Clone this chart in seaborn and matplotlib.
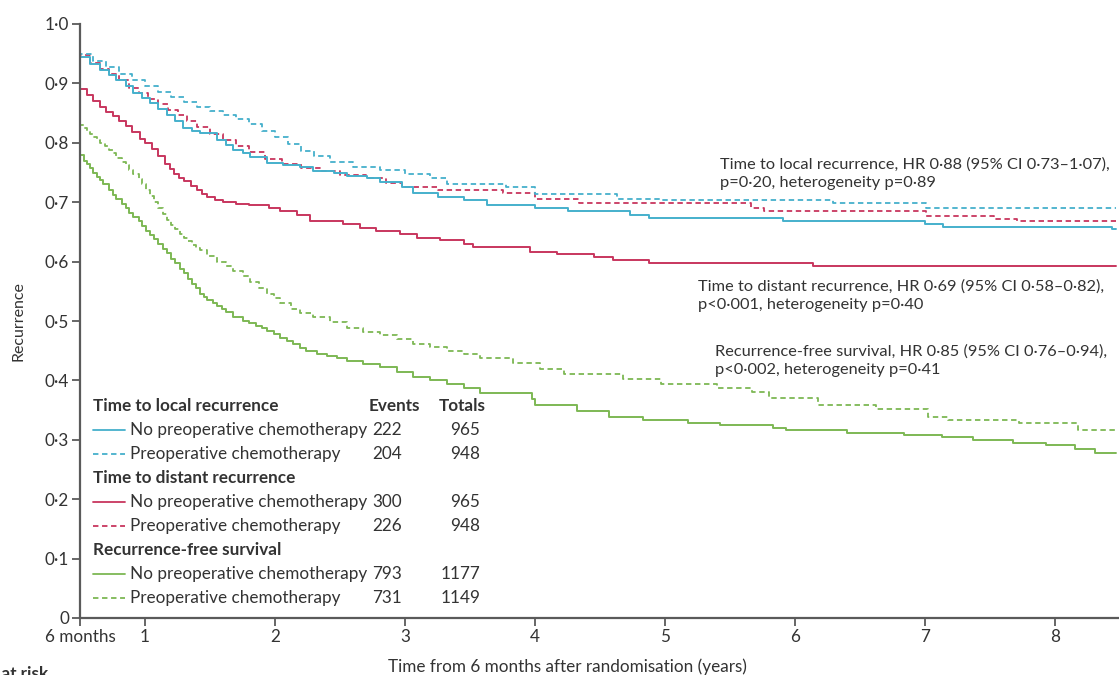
"""
plot.py
───────
Recurrence curves (local, distant, recurrence-free survival) by
preoperative chemotherapy arm, drawn as Kaplan-Meier style steps.
"""

import matplotlib
matplotlib.use('Agg')
import matplotlib.pyplot as plt
from matplotlib.ticker import FuncFormatter
import seaborn as sns


# ── data (years from randomisation, proportion free of event) ─────────────────

LOCAL_NO_T = [0.5, 0.5, 0.58, 0.65, 0.72, 0.78, 0.85, 0.91, 0.98, 1.04, 1.1, 1.17,
              1.23, 1.29, 1.36, 1.42, 1.55, 1.62, 1.68, 1.75, 1.81, 1.94, 2.06,
              2.19, 2.29, 2.45, 2.55, 2.71, 2.81, 2.98, 3.06, 3.25, 3.45, 3.63,
              4.0, 4.25, 4.73, 4.88, 5.91, 7.0, 7.14, 8.44, 8.47]
LOCAL_NO_Y = [1.0, 0.945, 0.932, 0.922, 0.914, 0.906, 0.895, 0.884, 0.876, 0.867,
              0.857, 0.847, 0.836, 0.825, 0.82, 0.816, 0.804, 0.796, 0.788, 0.782,
              0.776, 0.766, 0.762, 0.759, 0.752, 0.749, 0.744, 0.74, 0.734, 0.725,
              0.715, 0.708, 0.703, 0.696, 0.691, 0.685, 0.678, 0.673, 0.668,
              0.664, 0.659, 0.655, 0.655]

LOCAL_PRE_T = [0.5, 0.5, 0.6, 0.7, 0.8, 0.9, 1.0, 1.1, 1.2, 1.3, 1.4, 1.5, 1.6,
               1.7, 1.8, 1.9, 2.0, 2.1, 2.2, 2.3, 2.42, 2.6, 2.81, 3.0, 3.19,
               3.32, 3.78, 4.0, 4.63, 4.96, 6.29, 7.01, 8.47]
LOCAL_PRE_Y = [1.0, 0.95, 0.937, 0.927, 0.916, 0.905, 0.895, 0.886, 0.877, 0.868,
               0.86, 0.853, 0.846, 0.84, 0.832, 0.82, 0.81, 0.798, 0.787, 0.778,
               0.767, 0.76, 0.754, 0.748, 0.74, 0.73, 0.725, 0.713, 0.706, 0.703,
               0.698, 0.69, 0.69]

DIST_NO_T = [0.5, 0.5, 0.55, 0.6, 0.65, 0.7, 0.75, 0.8, 0.85, 0.9, 0.96, 1.0,
             1.05, 1.1, 1.15, 1.19, 1.22, 1.26, 1.3, 1.35, 1.4, 1.44, 1.48, 1.54,
             1.6, 1.7, 1.8, 1.95, 2.04, 2.17, 2.27, 2.52, 2.65, 2.78, 2.96, 3.09,
             3.27, 3.45, 3.52, 3.96, 4.17, 4.45, 4.6, 4.88, 6.14, 8.47]
DIST_NO_Y = [1.0, 0.89, 0.88, 0.87, 0.86, 0.852, 0.845, 0.837, 0.828, 0.818,
             0.807, 0.8, 0.79, 0.778, 0.765, 0.756, 0.748, 0.741, 0.735, 0.727,
             0.72, 0.714, 0.709, 0.704, 0.70, 0.697, 0.695, 0.69, 0.686, 0.678,
             0.669, 0.663, 0.657, 0.651, 0.646, 0.64, 0.636, 0.629, 0.624, 0.617,
             0.612, 0.607, 0.602, 0.597, 0.593, 0.593]

DIST_PRE_T = [0.5, 0.5, 0.58, 0.65, 0.72, 0.8, 0.88, 0.95, 1.02, 1.1, 1.18, 1.25,
              1.32, 1.4, 1.5, 1.6, 1.7, 1.8, 1.92, 2.05, 2.2, 2.35, 2.5, 2.7,
              2.85, 2.98, 3.25, 3.75, 4.0, 4.34, 5.66, 5.76, 7.01, 7.53, 7.71, 8.47]
DIST_PRE_Y = [1.0, 0.948, 0.935, 0.924, 0.915, 0.905, 0.893, 0.884, 0.874, 0.865,
              0.855, 0.846, 0.836, 0.826, 0.815, 0.805, 0.795, 0.785, 0.772,
              0.764, 0.758, 0.752, 0.746, 0.74, 0.733, 0.726, 0.721, 0.715, 0.706,
              0.698, 0.691, 0.686, 0.676, 0.672, 0.668, 0.668]

RFS_NO_T = [0.5, 0.5, 0.53, 0.55, 0.58, 0.6, 0.63, 0.65, 0.68, 0.72, 0.75, 0.78,
            0.82, 0.85, 0.88, 0.91, 0.95, 0.98, 1.01, 1.04, 1.07, 1.1, 1.14, 1.17,
            1.2, 1.23, 1.27, 1.3, 1.33, 1.36, 1.39, 1.42, 1.45, 1.48, 1.52, 1.55,
            1.59, 1.62, 1.68, 1.75, 1.8, 1.85, 1.9, 1.94, 1.99, 2.04, 2.09, 2.14,
            2.19, 2.24, 2.32, 2.4, 2.48, 2.55, 2.68, 2.81, 2.94, 3.06, 3.19, 3.32,
            3.45, 3.58, 3.98, 4.0, 4.32, 4.57, 4.83, 5.18, 5.42, 5.83, 5.93, 6.4,
            6.84, 7.13, 7.37, 7.68, 7.93, 8.15, 8.31, 8.47]
RFS_NO_Y = [1.0, 0.78, 0.77, 0.765, 0.757, 0.75, 0.743, 0.737, 0.73, 0.72, 0.712,
            0.705, 0.697, 0.69, 0.682, 0.675, 0.668, 0.66, 0.652, 0.645, 0.638,
            0.63, 0.622, 0.614, 0.605, 0.597, 0.588, 0.58, 0.571, 0.563, 0.555,
            0.546, 0.54, 0.535, 0.53, 0.525, 0.52, 0.515, 0.507, 0.50, 0.496,
            0.492, 0.488, 0.484, 0.478, 0.472, 0.466, 0.461, 0.455, 0.45, 0.445,
            0.441, 0.437, 0.433, 0.428, 0.422, 0.414, 0.405, 0.40, 0.394, 0.387,
            0.378, 0.369, 0.359, 0.349, 0.339, 0.334, 0.329, 0.325, 0.32, 0.317,
            0.312, 0.308, 0.304, 0.30, 0.295, 0.292, 0.285, 0.277, 0.277]

RFS_PRE_T = [0.5, 0.5, 0.53, 0.55, 0.58, 0.6, 0.63, 0.65, 0.69, 0.72, 0.75, 0.78,
             0.82, 0.85, 0.88, 0.91, 0.95, 0.98, 1.01, 1.04, 1.07, 1.1, 1.14, 1.17,
             1.2, 1.23, 1.27, 1.3, 1.33, 1.36, 1.39, 1.42, 1.48, 1.55, 1.62, 1.68,
             1.75, 1.81, 1.88, 1.94, 1.99, 2.04, 2.12, 2.19, 2.29, 2.42, 2.55,
             2.68, 2.81, 2.94, 3.06, 3.19, 3.32, 3.45, 3.58, 3.83, 4.04, 4.22,
             4.68, 4.97, 5.4, 5.67, 5.8, 6.18, 6.62, 7.02, 7.18, 7.72, 8.18, 8.47]
RFS_PRE_Y = [1.0, 0.83, 0.825, 0.82, 0.815, 0.81, 0.805, 0.80, 0.794, 0.788,
             0.782, 0.775, 0.768, 0.762, 0.755, 0.748, 0.739, 0.73, 0.72, 0.71,
             0.70, 0.69, 0.68, 0.67, 0.662, 0.655, 0.647, 0.64, 0.634, 0.628,
             0.623, 0.619, 0.61, 0.60, 0.592, 0.585, 0.575, 0.565, 0.555, 0.546,
             0.538, 0.53, 0.52, 0.513, 0.507, 0.498, 0.489, 0.482, 0.476, 0.469,
             0.462, 0.456, 0.45, 0.444, 0.438, 0.43, 0.42, 0.41, 0.403, 0.394,
             0.388, 0.38, 0.371, 0.359, 0.352, 0.339, 0.334, 0.329, 0.317, 0.317]

OUTCOMES   = ['Time to local recurrence', 'Time to distant recurrence',
              'Recurrence-free survival']
ARMS       = ['No preoperative chemotherapy', 'Preoperative chemotherapy']
EVENTS     = [[222, 204], [300, 226], [793, 731]]
TOTALS     = [[965, 948], [965, 948], [1177, 1149]]

HR_TEXT    = [
    'Time to local recurrence, HR 0·88 (95% CI 0·73–1·07),\n'
    'p=0·20, heterogeneity p=0·89',
    'Time to distant recurrence, HR 0·69 (95% CI 0·58–0·82),\n'
    'p<0·001, heterogeneity p=0·40',
    'Recurrence-free survival, HR 0·85 (95% CI 0·76–0·94),\n'
    'p<0·002, heterogeneity p=0·41',
]

X_TICKS      = [0.5, 1, 2, 3, 4, 5, 6, 7, 8]
X_TICKLABELS = ['6 months', '1', '2', '3', '4', '5', '6', '7', '8']


# ── style ──────────────────────────────────────────────────────────────────────

COLOURS   = ['#45b0cc', '#c8365e', '#7db854']
DASH      = (0, (3, 2))
TEXT_COL  = '#333333'
AXIS_COL  = '#5a5a5a'
FONT      = ['Lato', 'DejaVu Sans']
FS        = 12.3
FS_NOTE   = 11.8

sns.set_style('ticks')
plt.rcParams['font.family'] = FONT
plt.rcParams['text.color']  = TEXT_COL


def draw_curves(ax):
    """Step curves, one pair (solid / dashed) per outcome."""
    series = [
        (LOCAL_NO_T, LOCAL_NO_Y, LOCAL_PRE_T, LOCAL_PRE_Y),
        (DIST_NO_T, DIST_NO_Y, DIST_PRE_T, DIST_PRE_Y),
        (RFS_NO_T, RFS_NO_Y, RFS_PRE_T, RFS_PRE_Y),
    ]
    # draw green first so blue/red sit on top like the original
    for i in [2, 1, 0]:
        t_no, y_no, t_pre, y_pre = series[i]
        sns.lineplot(x=t_pre, y=y_pre, ax=ax, color=COLOURS[i], lw=1.3,
                     linestyle=DASH, drawstyle='steps-post',
                     estimator=None, sort=False)
        sns.lineplot(x=t_no, y=y_no, ax=ax, color=COLOURS[i], lw=1.4,
                     drawstyle='steps-post', estimator=None, sort=False)


def draw_table(ax):
    """Legend block with events and totals columns."""
    row_y   = 0.3575
    step    = 0.0405
    ax.text(2.72, row_y, 'Events', fontsize=FS, weight='bold', va='center')
    ax.text(3.62, row_y, 'Totals', fontsize=FS, weight='bold', va='center',
            ha='right')
    for i, outcome in enumerate(OUTCOMES):
        ax.text(0.6, row_y, outcome, fontsize=FS, weight='bold', va='center')
        row_y -= step
        for j, arm in enumerate(ARMS):
            ax.plot([0.6, 0.845], [row_y, row_y], color=COLOURS[i], lw=1.3,
                    linestyle='-' if j == 0 else DASH)
            ax.text(0.885, row_y, arm, fontsize=FS, va='center')
            ax.text(2.75, row_y, str(EVENTS[i][j]), fontsize=FS, va='center')
            ax.text(3.58, row_y, str(TOTALS[i][j]), fontsize=FS, va='center',
                    ha='right')
            row_y -= step


def draw_hr_notes(ax):
    """Hazard ratio annotations on the right."""
    positions = [(5.42, 0.748), (5.25, 0.543), (5.385, 0.433)]
    for (x, y), txt in zip(positions, HR_TEXT):
        ax.text(x, y, txt, fontsize=FS_NOTE, va='center', ha='left',
                linespacing=1.4)


if __name__ == '__main__':
    fig = plt.figure(figsize=(11.19, 6.75), dpi=100)
    ax  = fig.add_axes([80 / 1119, 57 / 675, 1039 / 1119, 594 / 675])

    draw_curves(ax)
    draw_table(ax)
    draw_hr_notes(ax)

    ax.set_xlim(0.5, 8.492)
    ax.set_ylim(0, 1.0)
    ax.set_xticks(X_TICKS)
    ax.set_xticklabels(X_TICKLABELS)
    ax.set_yticks([i / 10 for i in range(11)])
    ax.yaxis.set_major_formatter(FuncFormatter(
        lambda v, _: '0' if v == 0 else f'{v:.1f}'.replace('.', '·')))

    ax.tick_params(axis='both', length=6, width=1.3, color=AXIS_COL,
                   labelsize=FS, labelcolor=TEXT_COL, pad=2)
    for side in ['top', 'right']:
        ax.spines[side].set_visible(False)
    for side in ['left', 'bottom']:
        ax.spines[side].set_color(AXIS_COL)
        ax.spines[side].set_linewidth(1.6)

    ax.set_ylabel('Recurrence', fontsize=11.5, color=TEXT_COL, labelpad=14)
    ax.set_xlabel('Time from 6 months after randomisation (years)',
                  fontsize=FS, color=TEXT_COL, labelpad=10)
    ax.xaxis.set_label_coords(0.469, -0.068)

    # the at-risk table heading is cut by the bottom edge in the original
    fig.text(48 / 1119, 9 / 675, 'Number at risk', fontsize=FS,
             weight='bold', ha='right', va='top')

    fig.savefig('out.png', dpi=100)
    plt.close(fig)
